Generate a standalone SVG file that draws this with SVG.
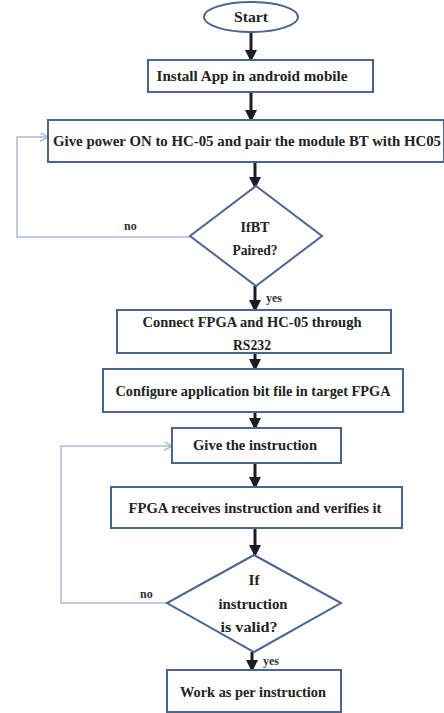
<svg xmlns="http://www.w3.org/2000/svg" width="444" height="713" viewBox="0 0 444 713">
<style>
.box{fill:#ffffff;stroke:#4a6690;stroke-width:2}
.t{font-family:"Liberation Serif","Times New Roman",serif;font-weight:bold;font-size:15px;fill:#222222;text-anchor:middle}
.lbl{font-family:"Liberation Serif","Times New Roman",serif;font-weight:bold;font-size:12px;fill:#333333}
.arr{stroke:#1c1c28;stroke-width:3;fill:none;marker-end:url(#ah)}
.fb{stroke:#a9b9d2;stroke-width:1.5;fill:none;marker-end:url(#fh)}
</style>
<defs>
<marker id="ah" markerWidth="4" markerHeight="4" refX="3" refY="2" orient="auto" markerUnits="strokeWidth">
<path d="M0,0 L4,2 L0,4 Z" fill="#1c1c28"/>
</marker>
<marker id="fh" markerWidth="6" markerHeight="6" refX="5" refY="3" orient="auto" markerUnits="strokeWidth">
<path d="M0,0 L6,3 L0,6" fill="none" stroke="#a9b9d2" stroke-width="1"/>
</marker>
</defs>
<rect width="444" height="713" fill="#ffffff"/>
<g id="connectors">
<line class="arr" x1="251" y1="32" x2="251" y2="59"/>
<line class="arr" x1="251" y1="92" x2="251" y2="119"/>
<line class="arr" x1="255" y1="162" x2="255" y2="186"/>
<line class="arr" x1="255" y1="286" x2="255" y2="309"/>
<line class="arr" x1="255" y1="353" x2="255" y2="368"/>
<line class="arr" x1="255" y1="412" x2="255" y2="427"/>
<line class="arr" x1="255" y1="463" x2="255" y2="486"/>
<line class="arr" x1="255" y1="528" x2="255" y2="554"/>
<line class="arr" x1="252" y1="652" x2="252" y2="669"/>
<polyline class="fb" points="190,237 17,237 17,137 47,137"/>
<polyline class="fb" points="167,603 61,603 61,446 171,446"/>
<text class="lbl" x="124" y="230">no</text>
<text class="lbl" x="266" y="302">yes</text>
<text class="lbl" x="140" y="598">no</text>
<text class="lbl" x="263" y="665">yes</text>
</g>
<g id="start">
<ellipse cx="251" cy="17" rx="47" ry="15" class="box"/>
<text class="t" x="251" y="22" textLength="34" lengthAdjust="spacingAndGlyphs">Start</text>
</g>
<g id="install">
<rect class="box" x="148" y="60" width="225" height="32"/>
<text class="t" x="252" y="81" textLength="191" lengthAdjust="spacingAndGlyphs">Install App in android mobile</text>
</g>
<g id="power">
<rect class="box" x="48" y="120" width="396" height="42"/>
<text class="t" x="247" y="146" textLength="388" lengthAdjust="spacingAndGlyphs">Give power ON to HC-05 and pair the module BT with HC05</text>
</g>
<g id="decision-bt">
<polygon class="box" points="256,186 322,236 256,286 190,236"/>
<text class="t" x="255" y="232" textLength="29" lengthAdjust="spacingAndGlyphs">IfBT</text>
<text class="t" x="255" y="255" textLength="45" lengthAdjust="spacingAndGlyphs">Paired?</text>
</g>
<g id="connect">
<rect class="box" x="117" y="310" width="274" height="43"/>
<text class="t" x="252" y="327" textLength="219" lengthAdjust="spacingAndGlyphs">Connect FPGA and HC-05 through</text>
<text class="t" x="252" y="350" textLength="38" lengthAdjust="spacingAndGlyphs">RS232</text>
</g>
<g id="configure">
<rect class="box" x="103" y="369" width="300" height="43"/>
<text class="t" x="253" y="396" textLength="275" lengthAdjust="spacingAndGlyphs">Configure application bit file in target FPGA</text>
</g>
<g id="give">
<rect class="box" x="172" y="428" width="169" height="35"/>
<text class="t" x="255" y="450" textLength="124" lengthAdjust="spacingAndGlyphs">Give the instruction</text>
</g>
<g id="receive">
<rect class="box" x="111" y="487" width="291" height="41"/>
<text class="t" x="255" y="513" textLength="253" lengthAdjust="spacingAndGlyphs">FPGA  receives instruction and verifies it</text>
</g>
<g id="decision-valid">
<polygon class="box" points="254,555 341,603 254,652 167,603"/>
<text class="t" x="254" y="585" textLength="11" lengthAdjust="spacingAndGlyphs">If</text>
<text class="t" x="253" y="609" textLength="69" lengthAdjust="spacingAndGlyphs">instruction</text>
<text class="t" x="249" y="632" textLength="57" lengthAdjust="spacingAndGlyphs">is valid?</text>
</g>
<g id="work">
<rect class="box" x="167" y="670" width="174" height="42"/>
<text class="t" x="253" y="697" textLength="146" lengthAdjust="spacingAndGlyphs">Work as per instruction</text>
</g>
</svg>
